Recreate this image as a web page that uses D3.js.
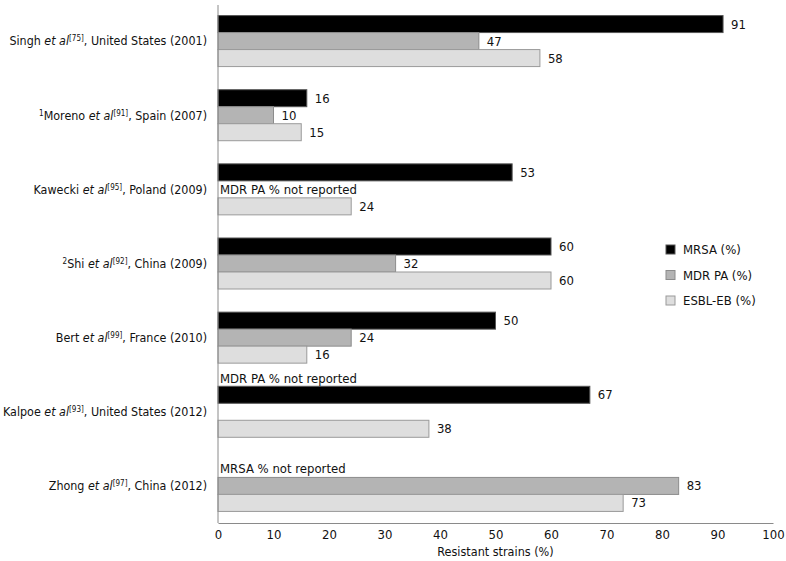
<!DOCTYPE html>
<html>
<head>
<meta charset="utf-8">
<script src="https://cdn.jsdelivr.net/npm/d3@7"></script>
<style>
body { margin: 0; background: #fff; }
text { font-family: "DejaVu Sans Condensed", "DejaVu Sans", sans-serif; font-stretch: condensed; fill: #111; }
</style>
</head>
<body>
<div id="wrapper"></div>
<script>
// studies (label parts: prefix sup, author, ref, rest)
var studies = [
    {pre: "", author: "Singh", ref: "75", rest: ", United States (2001)"},
    {pre: "1", author: "Moreno", ref: "91", rest: ", Spain (2007)"},
    {pre: "", author: "Kawecki", ref: "95", rest: ", Poland (2009)"},
    {pre: "2", author: "Shi", ref: "92", rest: ", China (2009)"},
    {pre: "", author: "Bert", ref: "99", rest: ", France (2010)"},
    {pre: "", author: "Kalpoe", ref: "93", rest: ", United States (2012)"},
    {pre: "", author: "Zhong", ref: "97", rest: ", China (2012)"}
]
var seriesNames = ["MRSA (%)", "MDR PA (%)", "ESBL-EB (%)"]
var mrsa = [91, 16, 53, 60, 50, 67, null]
var mdrpa = [47, 10, null, 32, 24, null, 83]
var esbl = [58, 15, 24, 60, 16, 38, 73]
var xTicks = [0, 10, 20, 30, 40, 50, 60, 70, 80, 90, 100]
// notes for missing values: study index, slot (bar position), text
var notes = [
    {study: 2, slot: 1, text: "MDR PA % not reported"},
    {study: 5, slot: -0.95, text: "MDR PA % not reported"},
    {study: 6, slot: 0, text: "MRSA % not reported"}
]

var colors = ["#000000", "#b4b4b4", "#dedede"]
var strokes = ["#555555", "#8c8c8c", "#9a9a9a"]

function draw(){
    const parent = d3.select("#wrapper")
    parent.selectAll('*').remove()

    var width = 786;
    var height = 561;
    var svg = parent.append("svg")
        .attr("width", width)
        .attr("height", height)

    var left = 218, right = 773, top = 4, bottom = 523;
    var fs = "13px"

    var xScaler = d3.scaleLinear()
        .domain([0, 100])
        .range([left, right])
    var yScaler = d3.scaleBand()
        .domain(d3.range(studies.length))
        .range([top, bottom])
        .padding(0)
    var barH = 17
    var inner = d3.scaleBand()
        .domain([0, 1, 2])
        .range([0, barH * 3])

    var series = [mrsa, mdrpa, esbl]
    var offset = (yScaler.bandwidth() - barH * 3) / 2

    // bars
    series.forEach(function(vals, s){
        var rows = vals.map(function(v, i){ return {i: i, v: v} }).filter(function(d){ return d.v != null })
        svg.append("g").selectAll("rect")
            .data(rows)
            .enter().append("rect")
            .attr("x", xScaler(0))
            .attr("y", function(d){ return yScaler(d.i) + offset + inner(s) })
            .attr("width", function(d){ return xScaler(d.v) - xScaler(0) })
            .attr("height", barH)
            .attr("fill", colors[s])
            .attr("stroke", strokes[s])
            .attr("stroke-width", 1)
        svg.append("g").selectAll("text")
            .data(rows)
            .enter().append("text")
            .attr("x", function(d){ return xScaler(d.v) + 8 })
            .attr("y", function(d){ return yScaler(d.i) + offset + inner(s) + barH / 2 })
            .attr("dy", "0.35em")
            .style("font-size", fs)
            .text(function(d){ return d.v })
    })

    // notes
    svg.append("g").selectAll("text")
        .data(notes)
        .enter().append("text")
        .attr("x", xScaler(0) + 2)
        .attr("y", function(d){ return yScaler(d.study) + offset + d.slot * barH + barH / 2 })
        .attr("dy", "0.35em")
        .style("font-size", fs)
        .text(function(d){ return d.text })

    // axes
    var xAxis = d3.axisBottom(xScaler).tickValues(xTicks).tickSize(0).tickPadding(7)
    var gx = svg.append("g")
        .attr("transform", "translate(0," + bottom + ")")
        .call(xAxis)
    gx.select(".domain").attr("stroke", "#8a8a8a")
    gx.selectAll("text").style("font-size", fs).style("font-family", null).attr("fill", "#111")

    svg.append("line")
        .attr("x1", left).attr("x2", left)
        .attr("y1", 5).attr("y2", bottom)
        .attr("stroke", "#8a8a8a")

    // category labels
    var labels = svg.append("g").selectAll("text")
        .data(studies)
        .enter().append("text")
        .attr("x", left - 11)
        .attr("y", function(d, i){ return yScaler(i) + yScaler.bandwidth() / 2 })
        .attr("dy", "0.35em")
        .attr("text-anchor", "end")
        .style("font-size", "12.4px")
    labels.each(function(d){
        var t = d3.select(this)
        if (d.pre) t.append("tspan").attr("baseline-shift", "super").style("font-size", "8px").text(d.pre)
        t.append("tspan").text(d.author + " ")
        t.append("tspan").style("font-style", "italic").text("et al")
        t.append("tspan").attr("baseline-shift", "super").style("font-size", "8px").text("[" + d.ref + "]")
        t.append("tspan").text(d.rest)
    })

    svg.append('text')
        .attr("x", (left + right) / 2)
        .attr("y", 556)
        .attr("text-anchor", "middle")
        .style("font-size", "12.5px")
        .text("Resistant strains (%)")

    // legend
    var legend = svg.append("g").attr("transform", "translate(666,245)")
    seriesNames.forEach(function(n, s){
        var g = legend.append("g").attr("transform", "translate(0," + (s * 25.5) + ")")
        g.append("rect")
            .attr("width", 9).attr("height", 9)
            .attr("fill", colors[s])
            .attr("stroke", strokes[s])
        g.append("text")
            .attr("x", 17).attr("y", 4.5)
            .attr("dy", "0.35em")
            .style("font-size", fs)
            .text(n)
    })
}
draw()
</script>
</body>
</html>
